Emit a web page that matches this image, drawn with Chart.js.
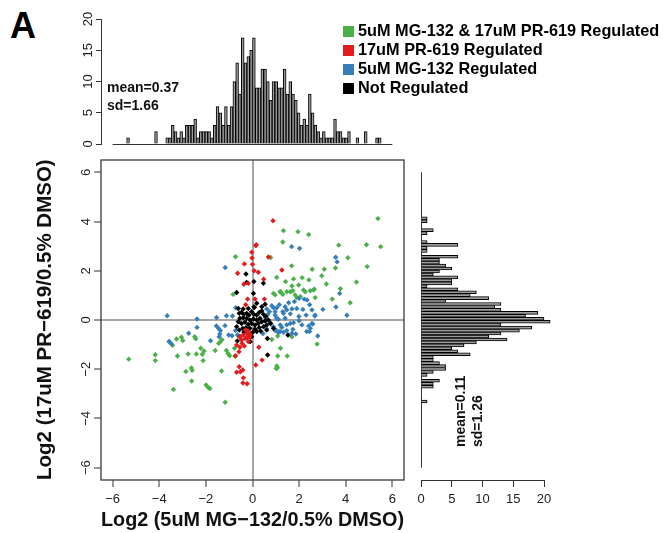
<!DOCTYPE html>
<html>
<head>
<meta charset="utf-8">
<script src="https://cdn.jsdelivr.net/npm/chart.js@4.4.0/dist/chart.umd.min.js"></script>
<style>
  html, body { margin: 0; padding: 0; background: #fff; }
  body { width: 663px; height: 533px; position: relative; overflow: hidden; font-family: "Liberation Sans", Arial, sans-serif; }
  .box { position: absolute; }
  #panel { position: absolute; left: 10px; top: 8px; font-weight: bold; font-size: 36px; line-height: 36px; color: #000; }
  #legend { position: absolute; left: 343px; top: 21px; font-weight: bold; font-size: 16.3px; color: #000; }
  #legend div { height: 19px; line-height: 19px; white-space: nowrap; }
  #legend span { display: inline-block; width: 11px; height: 11px; margin-right: 4px; vertical-align: -1px; }
</style>
</head>
<body>
<div id="panel">A</div>
<div class="box" style="left:0;top:150px;width:420px;height:383px"><canvas id="scatter"></canvas></div>
<div class="box" style="left:0;top:0;width:420px;height:155px"><canvas id="histX"></canvas></div>
<div class="box" style="left:405px;top:150px;width:258px;height:383px"><canvas id="histY"></canvas></div>
<div id="legend"></div>
<script>
// categories
const catLabels = ['5uM MG-132 & 17uM PR-619 Regulated', '17uM PR-619 Regulated', '5uM MG-132 Regulated', 'Not Regulated'];
const catColors = ['#4DAF4A', '#E41A1C', '#377EB8', '#000000'];

// scatter values [log2 MG-132, log2 PR-619]
const greenPts = [
  [5.38,4.12],[1.33,3.63],[1.95,3.59],[2.41,3.47],[1.30,3.17],[3.70,3.04],[4.89,3.06],[5.50,2.98],[4.09,2.53],[4.92,2.17],
  [1.68,2.20],[2.56,2.06],[3.08,2.06],[3.56,2.11],[2.97,1.80],[1.04,1.73],[1.76,1.67],[1.42,1.56],[2.13,1.72],[2.42,1.63],
  [3.17,1.46],[4.46,1.54],[1.98,1.42],[3.77,1.27],[1.69,1.38],[1.73,1.19],[1.47,1.15],[1.21,1.15],[0.90,1.08],[0.97,1.02],
  [2.19,1.22],[2.26,1.15],[2.48,1.19],[2.65,1.25],[3.42,0.85],[4.19,0.70],[0.78,2.54],[-0.73,2.57],[-0.83,1.04],[1.18,1.15],
  [1.30,1.04],[1.62,1.15],[1.83,1.02],[1.90,0.91],[2.05,0.95],[2.62,1.22],[2.69,0.91],
  [-5.31,-1.59],[-4.17,-1.41],[-4.17,-1.65],[-3.56,-0.89],[-3.43,-1.03],[-3.26,-0.77],[-3.05,-0.70],[-2.99,-0.83],[-3.22,-1.46],
  [-2.76,-1.38],[-2.48,-0.68],[-2.43,-0.76],[-2.41,-1.38],[-2.22,-1.15],[-2.15,-1.39],[-2.08,-1.26],[-2.12,-1.65],[-2.86,-2.09],
  [-2.62,-1.95],[-2.59,-2.04],[-2.61,-2.48],[-3.39,-2.82],[-1.99,-2.64],[-1.90,-2.74],[-1.83,-2.78],[-1.33,-2.07],[-1.17,-3.34],
  [-1.60,-1.24],[-1.45,-0.95],[-1.38,-0.88],[-1.31,-0.80],[-1.12,-1.24],[-1.05,-1.36],[-0.98,-1.45],[-0.75,-1.47],[-0.77,-1.15],
  [0.83,-0.79],[1.08,-0.65],[1.20,-1.15],[1.08,-1.46],[1.49,-1.46],[1.04,-1.87],[1.07,-1.94],[1.02,-1.97],[1.69,-0.68],[2.77,-0.98]
];
const redPts = [
  [0.88,4.03],[0.14,3.02],[0.16,3.06],[-0.03,2.75],[-0.02,2.52],[0.00,2.26],[0.68,2.56],[-0.35,2.28],[-0.64,1.90],[0.07,2.00],
  [0.25,1.94],[1.26,2.03],[-0.37,1.45],[-0.18,1.49],[0.48,1.66],[-0.21,0.85],[0.11,0.85],[-0.29,0.62],[0.51,0.85],
  [-0.40,-0.61],[-0.25,-0.54],[-0.32,-0.75],[-0.47,-0.81],[-0.54,-0.68],[-0.18,-0.47],[-0.18,-0.88],[-0.25,-0.70],[-0.35,-1.06],
  [-0.54,-1.11],[-0.58,-1.29],[-0.73,-1.45],[-0.68,-1.02],[-0.57,-1.90],[-0.68,-2.12],[-0.52,-2.10],[-0.42,-2.03],[-0.39,-2.35],
  [-0.41,-2.56],[-0.23,-2.59],[0.14,-1.83],[0.41,-1.63],[0.27,-1.11],[-0.10,-0.60],[-0.30,-0.40],[-0.45,-0.95],[-0.12,-0.70]
];
const bluePts = [
  [1.68,2.98],[2.02,2.91],[3.57,2.55],[3.63,2.36],[-1.17,2.13],[3.74,1.08],[1.80,0.75],[2.00,0.88],[2.22,0.85],[2.34,0.81],
  [1.40,0.54],[1.47,0.41],[1.30,0.34],[1.04,0.50],[0.97,0.34],[0.83,0.58],[0.90,0.50],[0.61,0.45],[0.73,0.34],[1.90,0.47],
  [1.69,0.45],[2.16,0.43],[2.55,0.41],[3.02,0.43],[3.58,0.53],[4.05,0.19],[1.99,0.14],[0.97,0.20],[1.15,0.62],[1.55,0.70],
  [1.62,0.25],[2.30,0.20],[0.55,0.10],[0.65,0.22],[1.33,0.27],[1.40,0.07],[2.69,0.20],[2.45,0.62],[1.04,0.07],
  [-3.66,0.17],[-2.38,0.04],[-1.54,0.10],[-1.12,0.17],[-0.86,0.16],[-0.72,0.50],[-2.38,-0.30],[-2.74,-0.54],[-3.58,-0.87],
  [-3.48,-0.97],[-1.80,-0.84],[-1.55,-0.24],[-1.46,-0.34],[-1.38,-0.43],[-1.40,-0.57],[-1.18,-0.23],[-1.02,-0.61],[-0.88,-0.64],
  [-1.43,-0.68],[-0.73,-0.43],[-0.64,-0.61],
  [0.90,-0.27],[1.01,-0.41],[1.18,-0.47],[1.47,-0.20],[1.62,-0.14],[1.76,-0.11],[2.12,-0.20],[2.41,-0.24],[2.48,-0.34],[2.45,-0.47],
  [2.59,-0.16],[2.80,-0.65],[2.00,-0.03],[1.47,-0.43],[1.33,-0.50],[1.26,-0.30],[1.11,0.03],[1.69,-0.54],[1.73,-0.38],[2.33,-0.47],
  [1.86,-0.57],[0.97,-0.43],[1.11,-0.51],[2.67,0.16],[2.55,-0.14],[0.60,-0.35],[0.75,-0.10],[0.45,-0.55],[1.19,-0.20]
];
const blackPts = [
  [-0.28,1.87],[-0.25,1.53],[0.06,1.56],[-0.68,1.12],[0.47,1.49],[0.04,1.08],[0.08,0.51],
  [0.64,-0.75],[0.65,-1.42],[1.52,-0.61],[-0.65,-0.85],[-0.10,-0.88],
  [-0.57,0.27],[-0.47,0.31],[-0.37,0.23],[-0.25,0.27],[-0.15,0.20],[-0.04,0.34],[0.06,0.23],[0.18,0.20],[0.29,0.31],[0.40,0.37],
  [0.47,0.23],[0.57,0.14],[0.32,0.07],[0.18,0.00],[0.04,0.04],[-0.11,0.00],[-0.25,0.07],[-0.40,0.09],[-0.54,0.07],[-0.61,-0.07],
  [-0.47,-0.14],[-0.32,-0.09],[-0.18,-0.18],[-0.04,-0.14],[0.11,-0.20],[0.25,-0.14],[0.40,-0.07],[0.54,-0.04],[0.61,-0.20],
  [0.47,-0.27],[0.29,-0.31],[0.11,-0.37],[-0.11,-0.34],[-0.28,-0.31],[-0.42,-0.34],[-0.57,-0.41],[-0.37,-0.50],[-0.18,-0.54],
  [0.01,-0.50],[0.18,-0.47],[0.35,-0.45],[0.06,0.54],[0.40,0.54],[0.54,0.64],[0.18,0.68],[-0.18,0.47],[-0.40,0.45],[-0.61,0.47],
  [-0.68,-0.27],[-0.54,-0.68],[-0.25,-0.72],[-0.04,-0.68],[0.61,-0.41],[0.68,0.00],[0.78,-0.14],[0.90,-0.34]
];

// marginal histograms (bin centre of first bin, bin width, counts)
const xHistFirst = -5.34;
const xHistStep = 0.12;
const xHistCounts = [
  1,0,0,0,0,0,0,0,0,0, 2,0,0,0,1,1,3,2,1,2, 1,3,3,3,4,1,2,2,2,2,
  1,3,6,5,3,6,3,6,10,13, 8,17,13,14,15,17,9,9,12,12, 10,7,10,10,9,9,12,8,10,8,
  7,5,3,4,3,8,5,3,2,1, 2,1,1,1,4,2,2,1,1,2, 0,0,1,0,0,2,0,0,0,1, 1
];
const xMean = '0.37', xSd = '1.66';

const yHistTop = 4.13;      // centre of the top bin, bins go downwards
const yHistStep = 0.12;
const yHistCounts = [
  1,1,0,0,2,1,0,0,1,6, 1,1,0,6,3,3,4,5,3,2, 6,5,5,1,6,9,8,11,4,13,
  12,13,19,17,20,21,13,18,16,13, 11,14,9,7,5,6,8,2,2,3, 4,4,2,1,0,3,2,2,0,0, 0,0,1
];
const yMean = '0.11', ySd = '1.26';

// tick labels
const scatterTicks = [-6, -4, -2, 0, 2, 4, 6];
const countTicks = [0, 5, 10, 15, 20];

Chart.defaults.font.family = '"Liberation Sans", Arial, sans-serif';
Chart.defaults.color = '#222';

const minus = v => String(v).replace('-', '\u2212');
const zeroLine = c => (c.tick && c.tick.value === 0) ? '#a6a6a6' : 'rgba(0,0,0,0)';
const toXY = p => ({ x: p[0], y: p[1] });
const fixTicks = list => scale => { scale.ticks = list.map(v => ({ value: v })); };

const frame = {
  id: 'frame',
  afterDatasetsDraw(chart) {
    const { ctx, chartArea: a } = chart;
    ctx.save();
    ctx.strokeStyle = '#3a3a3a';
    ctx.lineWidth = 1.3;
    ctx.strokeRect(a.left, a.top, a.right - a.left, a.bottom - a.top);
    ctx.restore();
  }
};

// Scatter plot
const groups = [greenPts, redPts, bluePts, blackPts];
const drawOrder = [3, 0, 2, 1];
const scatter = new Chart(document.getElementById('scatter'), {
  type: 'scatter',
  data: {
    datasets: groups.map((pts, i) => ({
      label: catLabels[i],
      data: pts.map(toXY),
      backgroundColor: catColors[i],
      borderWidth: 0,
      pointStyle: 'rectRot',
      pointRadius: 2.7,
      order: drawOrder[i]
    }))
  },
  options: {
    responsive: true,
    maintainAspectRatio: false,
    animation: false,
    layout: { padding: { left: 0, top: 10, right: 16, bottom: 0 } },
    plugins: { legend: { display: false }, tooltip: { enabled: false } },
    scales: {
      x: {
        type: 'linear', min: -6.5, max: 6.5,
        afterBuildTicks: fixTicks(scatterTicks),
        afterFit(s) { s.height = 53; },
        border: { display: false },
        grid: { color: zeroLine, lineWidth: 2, tickColor: '#333', tickWidth: 1, tickLength: 7 },
        ticks: { maxRotation: 0, padding: 5, font: { size: 13 }, callback: minus },
        title: { display: true, text: 'Log2 (5uM MG\u2212132/0.5% DMSO)', color: '#111',
                 font: { size: 20.5, weight: 'bold' }, padding: { top: 0, bottom: 0 } }
      },
      y: {
        type: 'linear', min: -6.5, max: 6.5,
        afterBuildTicks: fixTicks(scatterTicks),
        afterFit(s) { s.width = 101; },
        border: { display: false },
        grid: { color: zeroLine, lineWidth: 2, tickColor: '#333', tickWidth: 1, tickLength: 7 },
        ticks: { minRotation: 90, maxRotation: 90, crossAlign: 'center', padding: 0, font: { size: 13 }, callback: minus },
        title: { display: true, text: 'Log2 (17uM PR\u2212619/0.5% DMSO)', color: '#111', align: 'start',
                 font: { size: 20.5, weight: 'bold' }, padding: { top: 33, bottom: 0 } }
      }
    }
  },
  plugins: [frame]
});

// Top histogram (x values)
const histXExtras = {
  id: 'histXExtras',
  beforeDatasetsDraw(chart) {
    const { ctx, scales: { x, y } } = chart;
    const yy = Math.round(y.getPixelForValue(0)) + 0.5;
    ctx.save();
    ctx.strokeStyle = '#333';
    ctx.lineWidth = 1;
    ctx.beginPath();
    ctx.moveTo(x.getPixelForValue(-6), yy);
    ctx.lineTo(x.getPixelForValue(6), yy);
    ctx.stroke();
    ctx.restore();
  },
  afterDraw(chart) {
    const ctx = chart.ctx;
    ctx.save();
    ctx.fillStyle = '#111';
    ctx.font = 'bold 14px "Liberation Sans", Arial, sans-serif';
    ctx.textBaseline = 'middle';
    ctx.textAlign = 'left';
    ctx.fillText('mean=' + xMean, 107, 88);
    ctx.fillText('sd=' + xSd, 107, 106);
    ctx.restore();
  }
};

new Chart(document.getElementById('histX'), {
  type: 'bar',
  data: {
    datasets: [{
      data: xHistCounts.map((c, i) => ({ x: xHistFirst + i * xHistStep, y: c })).filter(d => d.y > 0),
      backgroundColor: '#9c9c9c',
      borderColor: '#000',
      borderWidth: 1,
      barPercentage: 1,
      categoryPercentage: 1
    }]
  },
  options: {
    responsive: true,
    maintainAspectRatio: false,
    animation: false,
    layout: { padding: { left: 0, top: 19, right: 16, bottom: 11 } },
    plugins: { legend: { display: false }, tooltip: { enabled: false } },
    scales: {
      x: { type: 'linear', min: -6.5, max: 6.5, offset: false, display: false },
      y: {
        type: 'linear', min: 0, max: 20,
        afterBuildTicks: fixTicks(countTicks),
        afterFit(s) { s.width = 101; },
        border: { color: '#333', width: 1 },
        grid: { drawOnChartArea: false, color: '#333', tickLength: 5 },
        ticks: { minRotation: 90, maxRotation: 90, crossAlign: 'center', padding: 0, font: { size: 13 } }
      }
    }
  },
  plugins: [histXExtras]
});

// Right histogram (y values)
const histYExtras = {
  id: 'histYExtras',
  beforeDatasetsDraw(chart) {
    const { ctx, scales: { x, y } } = chart;
    const xx = Math.round(x.getPixelForValue(0)) + 0.5;
    ctx.save();
    ctx.strokeStyle = '#333';
    ctx.lineWidth = 1;
    ctx.beginPath();
    ctx.moveTo(xx, y.getPixelForValue(6));
    ctx.lineTo(xx, y.getPixelForValue(-6));
    ctx.stroke();
    ctx.restore();
  },
  afterDraw(chart) {
    const ctx = chart.ctx;
    ctx.save();
    ctx.fillStyle = '#111';
    ctx.font = 'bold 14px "Liberation Sans", Arial, sans-serif';
    ctx.textBaseline = 'middle';
    ctx.textAlign = 'left';
    ctx.translate(56, 297);
    ctx.rotate(-Math.PI / 2);
    ctx.fillText('mean=' + yMean, 0, 0);
    ctx.fillText('sd=' + ySd, 0, 17);
    ctx.restore();
  }
};

new Chart(document.getElementById('histY'), {
  type: 'bar',
  data: {
    datasets: [{
      data: yHistCounts.map((c, i) => ({ x: c, y: yHistTop - i * yHistStep })).filter(d => d.x > 0),
      backgroundColor: '#9c9c9c',
      borderColor: '#000',
      borderWidth: 1,
      barPercentage: 1,
      categoryPercentage: 1,
      clip: false
    }]
  },
  options: {
    indexAxis: 'y',
    responsive: true,
    maintainAspectRatio: false,
    animation: false,
    layout: { padding: { left: 16, top: 10, right: 119, bottom: 0 } },
    plugins: { legend: { display: false }, tooltip: { enabled: false } },
    scales: {
      y: { type: 'linear', min: -6.5, max: 6.5, offset: false, display: false },
      x: {
        type: 'linear', min: 0, max: 20,
        afterBuildTicks: fixTicks(countTicks),
        afterFit(s) { s.height = 53; },
        border: { color: '#333', width: 1 },
        grid: { drawOnChartArea: false, color: '#333', tickLength: 7 },
        ticks: { maxRotation: 0, padding: 5, font: { size: 13 } }
      }
    }
  },
  plugins: [histYExtras]
});

// Legend built from the scatter datasets
const legend = document.getElementById('legend');
scatter.data.datasets.forEach(ds => {
  const row = document.createElement('div');
  const sw = document.createElement('span');
  sw.style.background = ds.backgroundColor;
  row.appendChild(sw);
  row.appendChild(document.createTextNode(ds.label));
  legend.appendChild(row);
});
</script>
</body>
</html>
